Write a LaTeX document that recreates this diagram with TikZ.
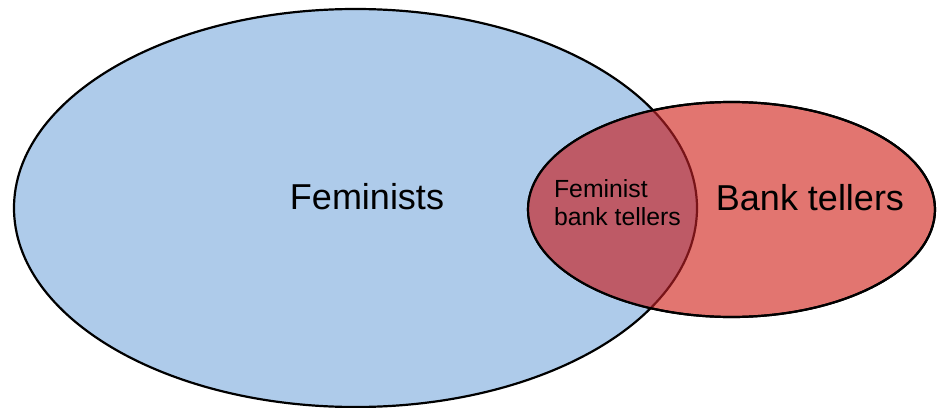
\documentclass[tikz,border=0pt]{standalone}
\usepackage{fontspec}
\setmainfont{Liberation Sans}
\usetikzlibrary{shapes.geometric}
\definecolor{femblue}{RGB}{174,203,234}
\definecolor{bankred}{RGB}{226,117,112}
\definecolor{bothred}{RGB}{190,90,102}
\definecolor{edgered}{RGB}{120,20,24}
\tikzset{
  set/.style={draw=black, line width=1.1pt, ellipse, inner sep=0pt},
  big/.style={font=\fontsize{18}{20}\selectfont},
  small/.style={font=\fontsize{12.4}{14}\selectfont, align=left}
}
\begin{document}
\begin{tikzpicture}[x=0.5pt,y=-0.5pt]
  \useasboundingbox (0,0) rectangle (937,407);
  \node[set, fill=femblue, minimum width=341.5pt, minimum height=199pt] (fem)  at (355.5,208) {};
  \node[set, fill=bankred, minimum width=203.5pt, minimum height=107.5pt] (bank) at (731.5,209.5) {};
  % the overlap
  \begin{scope}
    \clip (fem.center) ellipse [x radius=341.5, y radius=199];
    \fill[bothred] (bank.center) ellipse [x radius=203.5, y radius=107.5];
  \end{scope}
  \begin{scope}
    \clip (bank.center) ellipse [x radius=203.5, y radius=107.5];
    \draw[edgered, line width=1.1pt] (fem.center) ellipse [x radius=341.5, y radius=199];
  \end{scope}
  \draw[line width=1.1pt] (bank.center) ellipse [x radius=203.5, y radius=107.5];
  \node[big]   (femlabel)  at (367,197) {Feminists};
  \node[big]   (banklabel) at (810,198) {Bank tellers};
  \node[small, anchor=west] (bothlabel) at (547,203) {Feminist\\bank tellers};
\end{tikzpicture}
\end{document}
